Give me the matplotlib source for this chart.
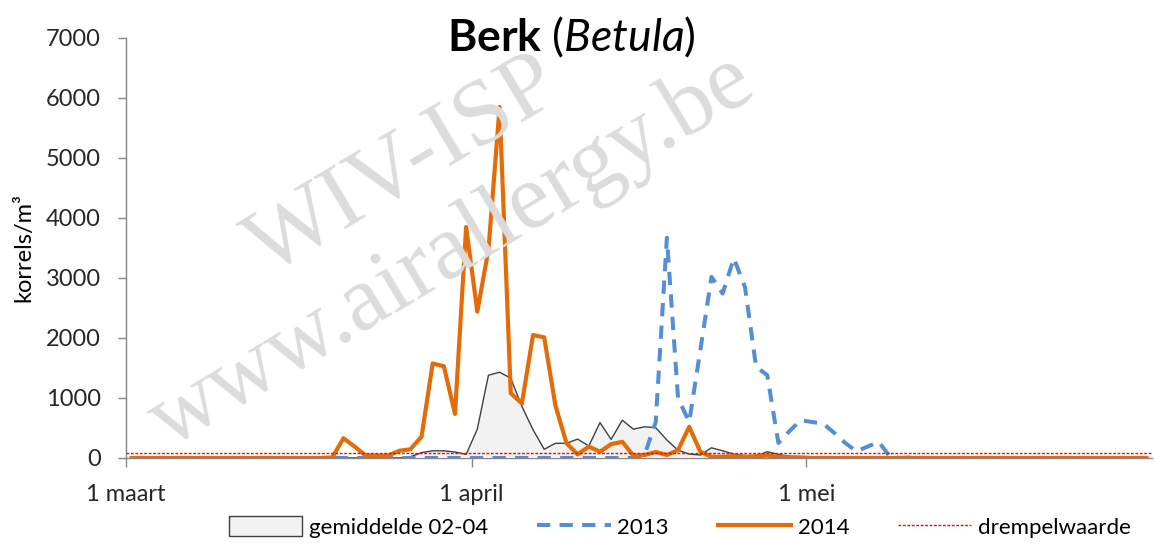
import numpy as np
import matplotlib
matplotlib.use("Agg")
import matplotlib.pyplot as plt
from matplotlib.patches import Patch
from matplotlib.lines import Line2D

plt.rcParams['font.family'] = ['Lato', 'DejaVu Sans']
plt.rcParams['mathtext.fontset'] = 'custom'
plt.rcParams['mathtext.rm'] = 'Lato'
plt.rcParams['mathtext.bf'] = 'Lato:bold'
plt.rcParams['mathtext.it'] = 'Lato:italic'

# dagen vanaf 1 maart (0 = 1 maart), 92 dagen t/m 31 mei
days = np.arange(92)

# gemiddelde 02-04 (korrels/m3)
avg_0204 = [0, 0, 0, 0, 0, 0, 0, 0, 0, 0,
            0, 0, 0, 0, 0, 0, 0, 0, 0, 0,
            0, 0, 0, 0, 0, 20, 90, 120, 120, 100,
            60, 480, 1380, 1430, 1330, 860, 470, 145, 245, 245,
            315, 200, 590, 310, 630, 480, 520, 505, 300, 130,
            65, 50, 170, 120, 65, 40, 30, 105, 60, 30,
            20, 0, 0, 10, 0, 0, 0, 0, 0, 0,
            10, 0, 0, 0, 0, 0, 0, 0, 0, 0,
            0, 0, 0, 0, 0, 0, 0, 0, 0, 0,
            0, 0]

# 2013
y2013 = [0, 0, 0, 0, 0, 0, 0, 0, 0, 0,
         0, 0, 0, 0, 0, 0, 0, 0, 0, 0,
         0, 0, 0, 0, 0, 0, 0, 0, 0, 0,
         0, 0, 0, 0, 0, 0, 0, 0, 0, 0,
         0, 0, 0, 0, 0, 0, 50, 600, 3670, 1000,
         600, 1800, 3020, 2740, 3330, 2850, 1520, 1380, 250, 450,
         630, 600, 575, 420, 250, 110, 190, 270, 20, 0,
         10, 0, 0, 0, 0, 0, 0, 0, 0, 0,
         0, 0, 0, 0, 0, 0, 0, 0, 0, 0,
         0, 0]

# 2014
y2014 = [0, 0, 0, 0, 0, 0, 0, 0, 0, 0,
         0, 0, 0, 0, 0, 0, 0, 0, 10, 330,
         190, 40, 40, 40, 120, 145, 355, 1575, 1530, 735,
         3850, 2440, 3470, 5850, 1080, 910, 2050, 2010, 880, 245,
         60, 190, 105, 230, 270, 40, 50, 100, 50, 130,
         520, 105, 20, 20, 30, 20, 30, 40, 20, 10,
         10, 0, 0, 0, 0, 0, 0, 0, 0, 0,
         0, 0, 0, 0, 0, 0, 0, 0, 0, 0,
         0, 0, 0, 0, 0, 0, 0, 0, 0, 0,
         0, 0]

threshold = 80
month_ticks = [0, 31, 61]
month_labels = ['1 maart', '1 april', '1 mei']

W, H = 1155, 548
fig = plt.figure(figsize=(W / 100, H / 100), dpi=100)
ax = fig.add_axes([126 / W, 90 / H, 1026 / W, 420 / H])

x = days + 0.5

# watermerk
wm = dict(family='Liberation Serif', color='#dcdcdc', rotation=31,
          ha='center', va='center', rotation_mode='anchor', zorder=0)
fig.text(405 / W, 1 - 168 / H, 'WIV-ISP', fontsize=68, **wm)
fig.text(452 / W, 1 - 252 / H, 'www.airallergy.be', fontsize=68, **wm)

ax.fill_between(x, avg_0204, 0, facecolor='#f2f2f2', edgecolor='none', zorder=2)
ax.plot(x, avg_0204, color='#404040', lw=1.0, zorder=3)
ax.plot(x, y2013, color='#558ed5', lw=2.9, linestyle=(0, (3.3, 2.3)), zorder=4)
ax.plot(x, y2014, color='#e36c09', lw=3.0, zorder=5)
ax.axhline(threshold, color='#ff0000', lw=1.0, linestyle=(0, (2, 1.2)), zorder=6)

ax.set_xlim(0, 92)
ax.set_ylim(0, 7000)
ax.set_yticks(range(0, 7001, 1000))
ax.set_xticks(month_ticks)
ax.set_xticklabels(month_labels)
ax.patch.set_alpha(0)

for s in ['top', 'right']:
    ax.spines[s].set_visible(False)
for s in ['left', 'bottom']:
    ax.spines[s].set_color('#868686')
    ax.spines[s].set_linewidth(1.0)
    ax.spines[s].set_zorder(1)
ax.tick_params(axis='y', colors='#868686', length=6, width=1, pad=12,
               labelsize=17, labelcolor='#262626')
ax.tick_params(axis='x', colors='#868686', length=6.5, width=1, pad=12,
               labelsize=17, labelcolor='#262626')

ax.set_ylabel('korrels/m³', fontsize=17, color='#000000', labelpad=8)

fig.text(571 / W, 1 - 37 / H, r'$\bf{Berk}$ ($\it{Betula}$)', fontsize=32,
         ha='center', va='center')

handles = [Patch(facecolor='#f2f2f2', edgecolor='#404040', lw=1.0),
           Line2D([], [], color='#558ed5', lw=2.9, linestyle=(0, (3.3, 2.3))),
           Line2D([], [], color='#e36c09', lw=3.0),
           Line2D([], [], color='#ff0000', lw=1.0, linestyle=(0, (2, 1.2)))]
labels = ['gemiddelde 02-04', '2013', '2014', 'drempelwaarde']
fig.legend(handles, labels, loc='center', bbox_to_anchor=(680 / W, 1 - 527 / H),
           ncol=4, frameon=False, fontsize=16, handlelength=3.3, handleheight=1.0,
           handletextpad=0.3, columnspacing=2.2)

fig.savefig('out.png', dpi=100)
